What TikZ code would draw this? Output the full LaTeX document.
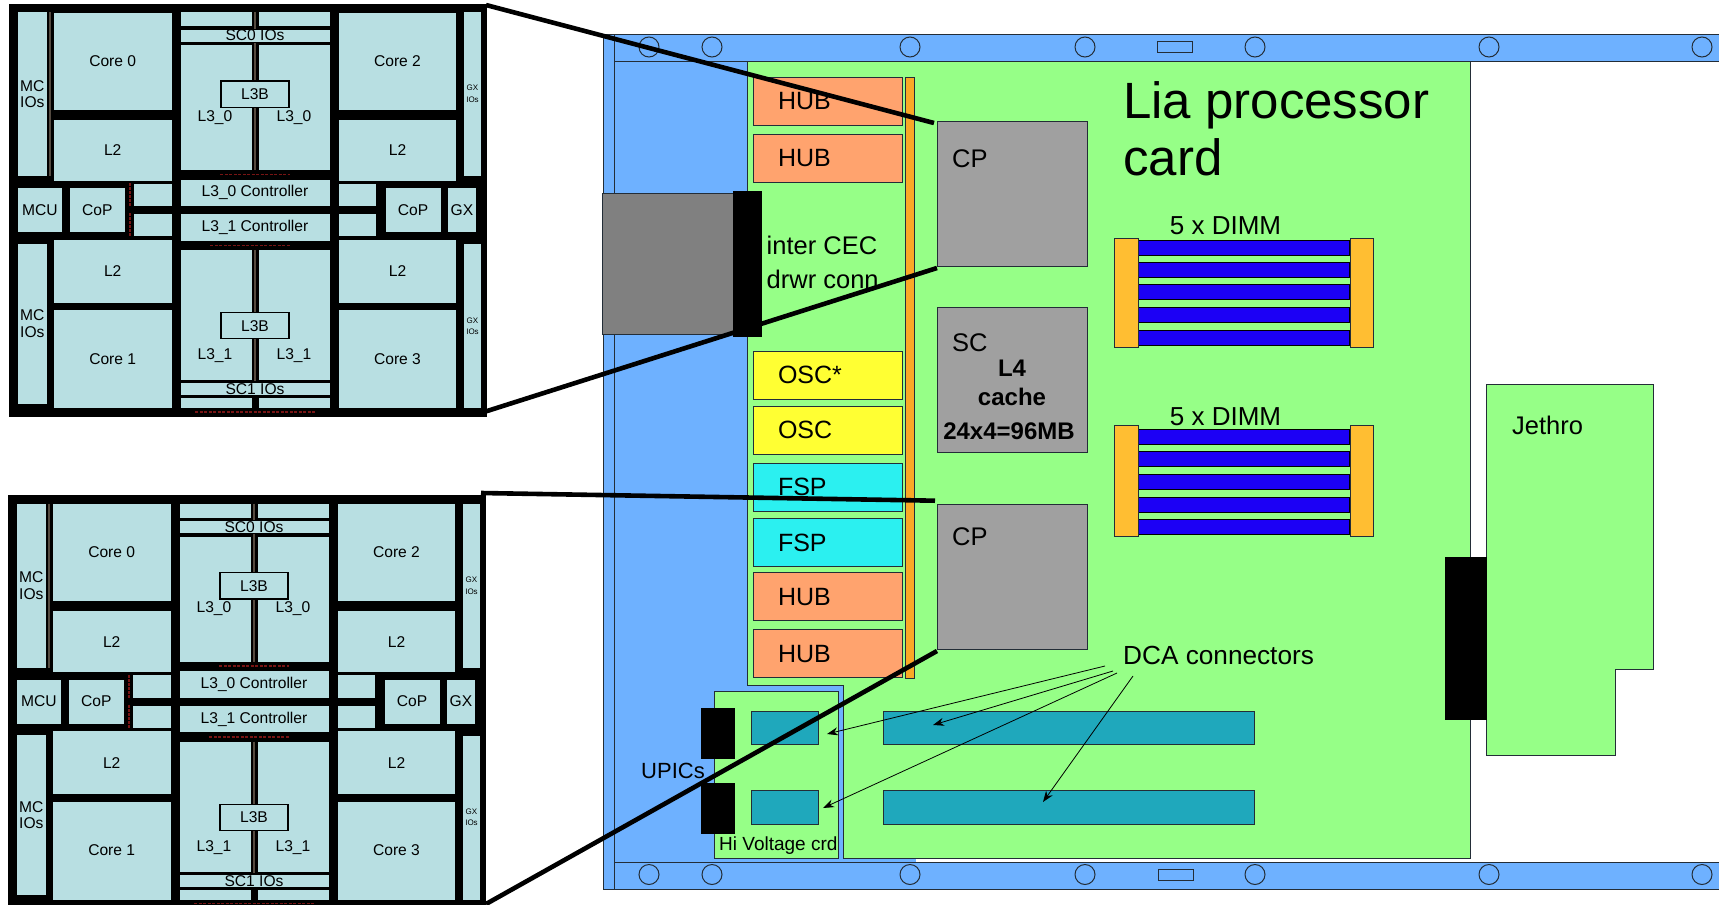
\documentclass[tikz,border=0pt]{standalone}
\usepackage{fontspec}
\setmainfont{Liberation Sans}
\usetikzlibrary{arrows.meta,positioning}
\definecolor{chassisblue}{RGB}{110,177,255}
\definecolor{cardgreen}{RGB}{150,255,135}
\definecolor{hubor}{RGB}{255,163,110}
\definecolor{oscyel}{RGB}{255,255,51}
\definecolor{fspcyan}{RGB}{43,240,240}
\definecolor{chipgrey}{RGB}{160,160,160}
\definecolor{conngrey}{RGB}{128,128,128}
\definecolor{stripor}{RGB}{250,168,38}
\definecolor{latchor}{RGB}{255,190,50}
\definecolor{dimmblue}{RGB}{28,0,245}
\definecolor{dcateal}{RGB}{31,168,188}
\definecolor{dieblue}{RGB}{184,223,226}
\definecolor{edgedark}{RGB}{35,45,55}
\definecolor{tracered}{RGB}{120,20,20}
\definecolor{tracegrey}{RGB}{85,75,65}

\tikzset{
  dieblk/.style 2 args={draw=black, line width=0.5pt, fill=dieblue, minimum width=#1,
    minimum height=#2, inner sep=0pt, align=center, font=\fontsize{15.6}{16.7}\selectfont},
  dielbl/.style={inner sep=0pt, font=\fontsize{15.6}{16}\selectfont},
  pics/chipdie/.style={code={
    \node[fill=black, minimum width=478, minimum height=413, inner sep=0pt] (bg) at (248,210) {};
    % traces between the blocks
    \draw[tracegrey, line width=2pt] (255,12) -- (255,170) (255,250) -- (255,381) (50,12) -- (50,176);
    \draw[tracered, line width=1.5pt, dash pattern=on 3pt off 1.5pt] (220,174.5) -- (290,174.5) (210,245.5) -- (290,245.5) (195,412) -- (315,412);
    \draw[tracered, line width=2pt, dash pattern=on 3pt off 1pt] (129.5,183) -- (129.5,206) (129.5,213) -- (129.5,236);
    % left column
    \node[dieblk={30}{165}] (mcioa) at (32.3,94.2) {MC\\IOs};
    \node[dieblk={30}{161}] (mciob) at (32.3,323.5) {MC\\IOs};
    \node[dieblk={119}{98}] (core0) at (112.7,60.8) {Core 0};
    \node[dieblk={119}{62}] (ltwoa) at (112.7,150) {L2};
    \node[dieblk={119}{64}] (ltwob) at (112.7,271) {L2};
    \node[dieblk={119}{99}] (core1) at (112.7,358.8) {Core 1};
    \node[dieblk={45.4}{45}] (mcu) at (40,209.8) {MCU};
    \node[dieblk={56.7}{45}] (copa) at (97.3,209.8) {CoP};
    \node[dieblk={38.7}{23.7}] (sqa) at (152.7,194.8) {};
    \node[dieblk={38.7}{22.7}] (sqb) at (152.7,224.7) {};
    % middle column
    \node[dieblk={72.3}{15}] (topa) at (216.2,19.2) {};
    \node[dieblk={71.7}{15}] (topb) at (294.2,19.2) {};
    \node[dieblk={150}{13}] (sczero) at (255,35.5) {SC0 IOs};
    \node[dieblk={72.3}{126.3}] (lzeroa) at (216.2,107.2) {};
    \node[dieblk={71.7}{126.3}] (lzerob) at (294.2,107.2) {};
    \node[dieblk={68}{26.3}, line width=1.2pt] (lbzero) at (255,94.2) {L3B};
    \node[dielbl] at (215,117.3) {L3\_0};
    \node[dielbl] at (294,117.3) {L3\_0};
    \node[dieblk={150}{27.7}] (ctrlzero) at (255,192.8) {L3\_0 Controller};
    \node[dieblk={150}{27.3}] (ctrlone) at (255,227.3) {L3\_1 Controller};
    \node[dieblk={72.3}{131.4}] (lonea) at (216.2,315) {};
    \node[dieblk={71.7}{131.4}] (loneb) at (294.2,315) {};
    \node[dieblk={68}{26}, line width=1.2pt] (lbone) at (255,325.7) {L3B};
    \node[dielbl] at (215,355.7) {L3\_1};
    \node[dielbl] at (294,355.7) {L3\_1};
    \node[dieblk={150}{13.4}] (scone) at (255,389) {SC1 IOs};
    \node[dieblk={72.3}{11}] (bota) at (216.2,402.8) {};
    \node[dieblk={71.7}{11}] (botb) at (294.2,402.8) {};
    % right column
    \node[dieblk={118.4}{98}] (core2) at (397.5,60.8) {Core 2};
    \node[dieblk={118.4}{62}] (ltwoc) at (397.5,150) {L2};
    \node[dieblk={118.4}{64}] (ltwod) at (397.5,271) {L2};
    \node[dieblk={118.4}{99}] (core3) at (397.5,358.8) {Core 3};
    \node[dieblk={38.4}{23.7}] (sqc) at (357.5,194.8) {};
    \node[dieblk={38.4}{22.7}] (sqd) at (357.5,224.7) {};
    \node[dieblk={56}{45}] (copb) at (413,209.8) {CoP};
    \node[dieblk={29.4}{45}] (gx) at (462,209.8) {GX};
    \node[dieblk={18.4}{165}, font=\fontsize{8}{12}\selectfont] (gxioa) at (472.5,94.2) {GX\\IOs};
    \node[dieblk={18.4}{165}, font=\fontsize{8}{11}\selectfont] (gxiob) at (472.5,325.8) {GX\\IOs};
  }},
}

\begin{document}
\begin{tikzpicture}[x=1pt, y=-1pt,
  edged/.style={draw=edgedark, line width=1pt},
  slab/.style={edged, minimum width=149, text width=99, inner xsep=25, inner ysep=0pt,
               align=left, minimum height=48, font=\fontsize{25}{28}\selectfont},
  hubbox/.style={slab, fill=hubor},
  oscbox/.style={slab, fill=oscyel},
  fspbox/.style={slab, fill=fspcyan},
  cpbox/.style={edged, fill=chipgrey, minimum width=150.3, minimum height=145, inner sep=0pt},
  lbl/.style={inner sep=0pt, align=left, anchor=west, font=\fontsize{25.5}{34}\selectfont},
  boldlbl/.style={inner sep=0pt, font=\fontsize{24}{25}\selectfont\bfseries},
  latch/.style={edged, fill=latchor, minimum width=23.5, inner sep=0pt},
  dimm/.style={draw=black, line width=1pt, fill=dimmblue, minimum width=212, minimum height=15, inner sep=0pt},
  dca/.style={edged, fill=dcateal, minimum height=33, inner sep=0pt},
  solid/.style={fill=black, inner sep=0pt},
  hole/.style={circle, edged, minimum size=20, inner sep=0pt},
  slot/.style={edged, minimum width=35, minimum height=11, inner sep=0pt},
  zoomline/.style={black, line width=4.6pt},
  arr/.style={-{Stealth[length=11pt,width=8pt]}, black, line width=0.8pt},
]
\useasboundingbox (0,0) rectangle (1719,905);

% chassis
\fill[chassisblue] (603,34) rectangle (1719,61);
\fill[chassisblue] (603,61) rectangle (916,862);
\fill[chassisblue] (603,862) rectangle (1719,889);
\draw[edged] (1719,34) -- (603,34) -- (603,889) -- (1719,889) (614,34) -- (614,889)
  (614,61) -- (1719,61) (614,862) -- (1719,862);

% the card
\draw[edged, fill=cardgreen] (747,61) -- (1470.5,61) -- (1470.5,858) -- (843,858)
  -- (843,685) -- (747,685) -- cycle;
\node[edged, fill=cardgreen, minimum width=124, minimum height=167, inner sep=0pt] (hivolt) at (776,774.5) {};
\node[inner sep=0pt, anchor=west, font=\fontsize{19}{20}\selectfont] (hilbl) at (719,846) {Hi Voltage crd};

\foreach \hx/\hn in {649/a,712/b,910/c,1085/d,1255/e,1489/f,1702/g}{
  \node[hole] (top\hn) at (\hx,47) {};
  \node[hole] (bot\hn) at (\hx,874.5) {};
}
\node[slot] (slottop) at (1175,47) {};
\node[slot] (slotbot) at (1176,874.5) {};

% card column
\node[edged, fill=stripor, minimum width=9, minimum height=601, inner sep=0pt] (strip) at (910.2,377.5) {};
\node[hubbox] (hub1) at (827.5,101.3) {HUB};
\node[hubbox, below=8pt of hub1] (hub2) {HUB};
\node[oscbox] (osc1) at (827.5,375) {OSC*};
\node[oscbox, below=6.3pt of osc1] (osc2) {OSC};
\node[fspbox, below=8pt of osc2] (fsp1) {FSP};
\node[fspbox, below=6.5pt of fsp1] (fsp2) {FSP};
\node[hubbox, below=5pt of fsp2] (hub3) {HUB};
\node[hubbox, below=8pt of hub3] (hub4) {HUB};

% chips
\node[cpbox] (cp1) at (1012.8,194.2) {};
\node[cpbox] (sc) at (1012.8,380.2) {};
\node[cpbox] (cp2) at (1012.8,577) {};
\node[lbl] (cp1lbl) at (952,159) {CP};
\node[lbl] (sclbl) at (952,343) {SC};
\node[lbl] (cp2lbl) at (952,537) {CP};
\node[boldlbl] (lfour) at (1012,368) {L4};
\node[boldlbl] (cachelbl) at (1012,397) {cache};
\node[boldlbl] (sizelbl) at (1009,431) {24x4=96MB};

% inter drawer connector
\node[edged, fill=conngrey, minimum width=131, minimum height=141, inner sep=0pt] (interconn) at (667.5,263.5) {};
\node[solid, minimum width=29, minimum height=146.5] (interblk) at (747.5,264) {};
\node[lbl] (interlbl) at (766.5,262) {inter CEC\\drwr conn};

\node[inner sep=0pt, anchor=west, font=\fontsize{51}{57.5}\selectfont, align=left] (title) at (1123,129) {Lia processor\\card};

% memory
\node[inner sep=0pt, font=\fontsize{26}{28}\selectfont] (dimmlbla) at (1225.5,226) {5 x DIMM};
\foreach \by/\bn in {248/a,270/b,292/c,315/d,338/e}{
  \node[dimm] (dimma\bn) at (1243.5,\by) {};
}
\node[latch, minimum height=109] (latchal) at (1126.5,292.5) {};
\node[latch, minimum height=109] (latchar) at (1362,292.5) {};
\node[inner sep=0pt, font=\fontsize{26}{28}\selectfont] (dimmlblb) at (1225.5,417) {5 x DIMM};
\foreach \by/\bn in {436.5/a,459/b,481.5/c,504.5/d,527/e}{
  \node[dimm] (dimmb\bn) at (1243.5,\by) {};
}
\node[latch, minimum height=110.7] (latchbl) at (1126.5,481) {};
\node[latch, minimum height=110.7] (latchbr) at (1362,481) {};

% DCA and UPICs
\node[dca, minimum width=67] (dcaa) at (785,728) {};
\node[dca, minimum width=67, minimum height=34] (dcab) at (785,807.7) {};
\node[dca, minimum width=371] (dcac) at (1069.3,728) {};
\node[dca, minimum width=371, minimum height=34] (dcad) at (1069.3,807.7) {};
\node[solid, minimum width=34, minimum height=51] (upica) at (718,733.5) {};
\node[solid, minimum width=34, minimum height=51] (upicb) at (718,808.5) {};
\node[inner sep=0pt, anchor=west, font=\fontsize{22}{24}\selectfont] (upiclbl) at (641,771) {UPICs};
\node[inner sep=0pt, anchor=west, font=\fontsize{26.2}{28}\selectfont] (dcalbl) at (1123,655) {DCA connectors};

% Jethro
\draw[draw=edgedark, line width=1pt, fill=cardgreen] (1486.5,384.5) -- (1653,384.5) -- (1653,669)
  -- (1615,669) -- (1615,755) -- (1486.5,755) -- cycle;
\node[lbl, font=\fontsize{25.5}{28}\selectfont] (jethro) at (1512,425) {Jethro};
\node[solid, minimum width=42, minimum height=162.7] (jethroconn) at (1466,638.7) {};

% die plots
\pic (diea) at (0,0) {chipdie};
\pic (dieb) at (-1,491.7) {chipdie};

\coordinate (dcafroma) at (1105,666);
\coordinate (dcafromb) at (1113,671);
\coordinate (dcafromc) at (1117,673);
\coordinate (dcafromd) at (1133,676);
\coordinate (dcatoa) at (827,734);
\coordinate (dcatob) at (933,725);
\coordinate (dcatoc) at (823,808);
\coordinate (dcatod) at (1043,802);
\draw[arr] (dcafroma) -- (dcatoa);
\draw[arr] (dcafromb) -- (dcatob);
\draw[arr] (dcafromc) -- (dcatoc);
\draw[arr] (dcafromd) -- (dcatod);

\coordinate (zooma) at (486,5);
\coordinate (zoomb) at (484,412);
\coordinate (zoomc) at (481,493);
\coordinate (zoomd) at (486,904);
\coordinate (cpatop) at (934,123);
\coordinate (cpabot) at (937,268);
\coordinate (cpbtop) at (935,500.7);
\coordinate (cpbbot) at (937,651);
\draw[zoomline] (zooma) -- (cpatop);
\draw[zoomline] (zoomb) -- (cpabot);
\draw[zoomline] (zoomc) -- (cpbtop);
\draw[zoomline] (zoomd) -- (cpbbot);
\end{tikzpicture}
\end{document}
